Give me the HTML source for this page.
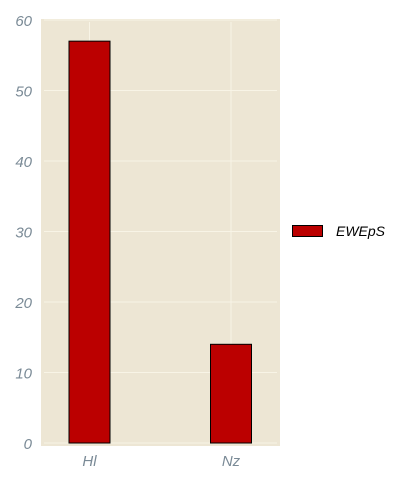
<!DOCTYPE html>
<html><head><meta charset="utf-8"><style>
body{margin:0;background:#fff;width:414px;height:483px;overflow:hidden}
text{font-family:"Liberation Sans",sans-serif;font-style:italic}
</style></head><body>
<svg id="chart" width="414" height="483" xmlns="http://www.w3.org/2000/svg">
<rect x="41" y="19" width="239" height="427" fill="#ede6d4"/>
<g id="grid"></g><g id="bars"></g><g id="axes"></g>
<g>
<rect x="292.5" y="225.5" width="30" height="11" fill="#bb0000" stroke="#000" stroke-width="1"/>
<text x="336" y="236" font-size="14" fill="#000">EWEpS</text>
</g>
</svg>
<script>
const categories=["Hl","Nz"];
const values=[57,14];
const yTicks=[0,10,20,30,40,50,60];
const ns="http://www.w3.org/2000/svg";
const y=v=>443-v*7.05;
const x=i=>89.5+i*141.5;
const bw=41;
function mk(tag,attrs,parent){const e=document.createElementNS(ns,tag);for(const k in attrs)e.setAttribute(k,attrs[k]);document.getElementById(parent).appendChild(e);return e;}
yTicks.forEach(t=>{
 const l=mk('line',{x1:44,x2:277,y1:y(t),y2:y(t),stroke:'#f8f4e6','stroke-width':1},'grid');
 
 
 const tx=mk('text',{x:32,y:y(t)+6,'text-anchor':'end','font-size':15,fill:'#7a8a96'},'axes');
 tx.textContent=t;
 
 
});
categories.forEach((c,i)=>{
 const g=mk('line',{x1:x(i),x2:x(i),y1:22,y2:443,stroke:'#f8f4e6','stroke-width':1},'grid');
 
 
 const b=mk('rect',{x:x(i)-bw/2,y:y(values[i]),width:bw,height:y(0)-y(values[i]),fill:'#bb0000',stroke:'#000','stroke-width':1},'bars');
 
 
 const t=mk('text',{x:x(i),y:466,'text-anchor':'middle','font-size':15,fill:'#7a8a96'},'axes');
 t.textContent=c;
 
 
});
</script>
</body></html>
